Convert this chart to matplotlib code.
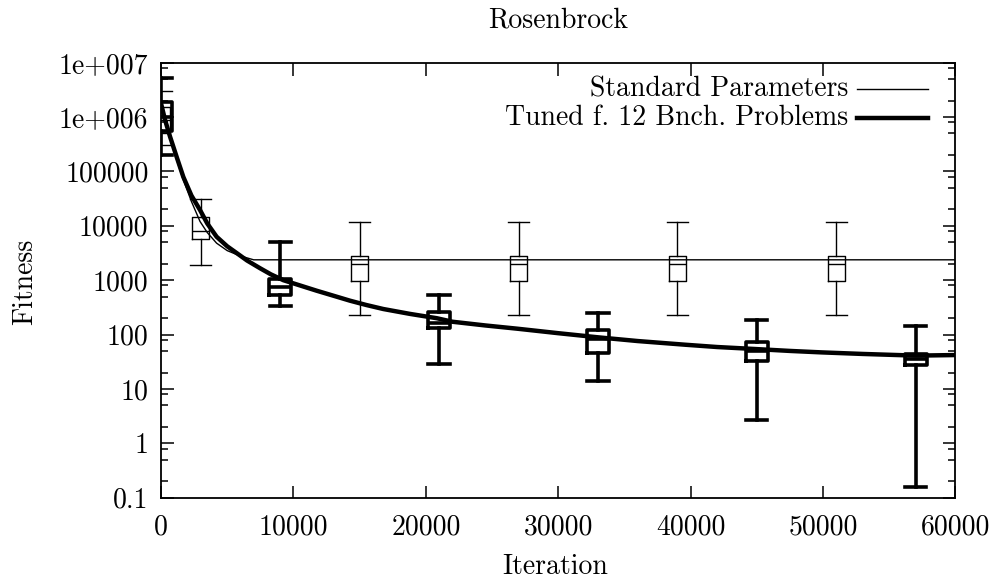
import matplotlib
matplotlib.use('Agg')
import matplotlib.pyplot as plt  # plotting
import matplotlib.ticker as mtick  # tick locators

plt.rcParams['font.family'] = ['cmr10', 'DejaVu Serif']
plt.rcParams['font.size'] = 20
plt.rcParams['axes.unicode_minus'] = False

# Mean fitness curves (iteration, fitness)
tuned_iter = [0, 300, 680, 1200, 1690, 2300, 2950, 3500, 4200, 5000, 5720, 6500, 7480, 8300,
              9240, 10500, 11760, 13000, 14270, 15500, 16790, 18800, 20820, 22020, 24500,
              26930, 30000, 33000, 36000, 39600, 42000, 45000, 47500, 49900, 53000, 57000, 60000]
tuned_fit = [1.8e6, 9e5, 4.4e5, 1.8e5, 7.9e4, 3.6e4, 1.95e4, 1.1e4, 6300, 4200, 3150, 2300, 1660, 1280,
             1000, 800, 640, 520, 420, 350, 295, 240, 200, 172, 147,
             128, 106, 89, 76, 65, 59, 54, 50, 47, 44, 41, 42]

std_iter = [0, 300, 680, 1200, 1690, 2300, 2950, 3500, 4200, 5000, 5970, 7000, 60000]
std_fit = [1.5e6, 8e5, 4e5, 1.6e5, 7e4, 2.8e4, 1.2e4, 7500, 4800, 3500, 2800, 2370, 2370]

# Box statistics for the standard parameters
std_pos = [0, 3000, 15000, 27000, 39000, 51000]
std_whislo = [3e5, 1900, 230, 230, 230, 230]
std_q1 = [5e5, 5700, 980, 980, 980, 980]
std_med = [9e5, 8000, 1950, 1950, 1950, 1950]
std_q3 = [1.5e6, 14800, 2740, 2740, 2740, 2740]
std_whishi = [3e6, 31000, 12000, 12000, 12000, 12000]

# Box statistics for the tuned parameters
tun_pos = [0, 9000, 21000, 33000, 45000, 57000]
tun_whislo = [2e5, 340, 29, 14, 2.7, 0.16]
tun_q1 = [5.5e5, 540, 131, 46, 33, 27]
tun_med = [1e6, 760, 166, 83, 50, 35]
tun_q3 = [1.9e6, 1050, 263, 119, 74, 44]
tun_whishi = [5.2e6, 5100, 540, 244, 188, 141]

labels = ['Standard Parameters', 'Tuned f. 12 Bnch. Problems']
ytick_vals = [0.1, 1, 10, 100, 1000, 10000, 100000, 1e6, 1e7]
ytick_text = ['0.1', '1', '10', '100', '1000', '10000', '100000', '1e+006', '1e+007']


def box_stats(whislo, q1, med, q3, whishi):
    return [dict(whislo=a, q1=b, med=c, q3=d, whishi=e, fliers=[])
            for a, b, c, d, e in zip(whislo, q1, med, q3, whishi)]


fig = plt.figure(figsize=(9.98, 5.81), dpi=100)
ax = fig.add_axes([0.1613, 0.1434, 0.7961, 0.7487])

ax.plot(std_iter, std_fit, color='black', lw=1.0, zorder=3)
ax.plot(tuned_iter, tuned_fit, color='black', lw=3.2, zorder=3)

thin = dict(color='black', lw=1.0)
ax.bxp(box_stats(std_whislo, std_q1, std_med, std_q3, std_whishi), positions=std_pos,
       widths=1300, capwidths=1600, showfliers=False, manage_ticks=False,
       boxprops=thin, medianprops=thin, whiskerprops=thin, capprops=thin)
thick = dict(color='black', lw=2.6)
ax.bxp(box_stats(tun_whislo, tun_q1, tun_med, tun_q3, tun_whishi), positions=tun_pos,
       widths=1700, capwidths=1600, showfliers=False, manage_ticks=False,
       boxprops=thick, medianprops=thick, whiskerprops=thick, capprops=thick)

ax.set_yscale('log')
ax.set_xlim(0, 60000)
ax.set_ylim(0.1, 1e7)
ax.set_xticks(range(0, 60001, 10000))
ax.set_yticks(ytick_vals)
ax.set_yticklabels(ytick_text)
ax.yaxis.set_minor_locator(mtick.LogLocator(base=10, subs=[2, 5, 8], numticks=20))
ax.yaxis.set_minor_formatter(mtick.NullFormatter())
ax.tick_params(which='major', direction='in', length=9, width=1.1, top=True, right=True)
ax.tick_params(axis='x', which='major', pad=12)
ax.tick_params(axis='y', which='major', pad=9)
ax.tick_params(which='minor', direction='in', length=5, width=1.1, top=False, right=True)
for s in ax.spines.values():
    s.set_linewidth(1.3)

# Legend in gnuplot style: label right-aligned, sample line after it
for i, (lab, lw) in enumerate(zip(labels, [1.0, 3.2])):
    yy = 0.9395 - i * 0.0665
    ax.text(0.8647, yy, lab, transform=ax.transAxes, ha='right', va='center')
    ax.plot([0.8755, 0.9654], [yy, yy], transform=ax.transAxes, color='black', lw=lw)

fig.text(0.559, 0.965, 'Rosenbrock', ha='center', va='center')
fig.text(0.556, 0.024, 'Iteration', ha='center', va='center')
fig.text(0.025, 0.515, 'Fitness', ha='center', va='center', rotation=90)

fig.savefig('out.png', dpi=100)
